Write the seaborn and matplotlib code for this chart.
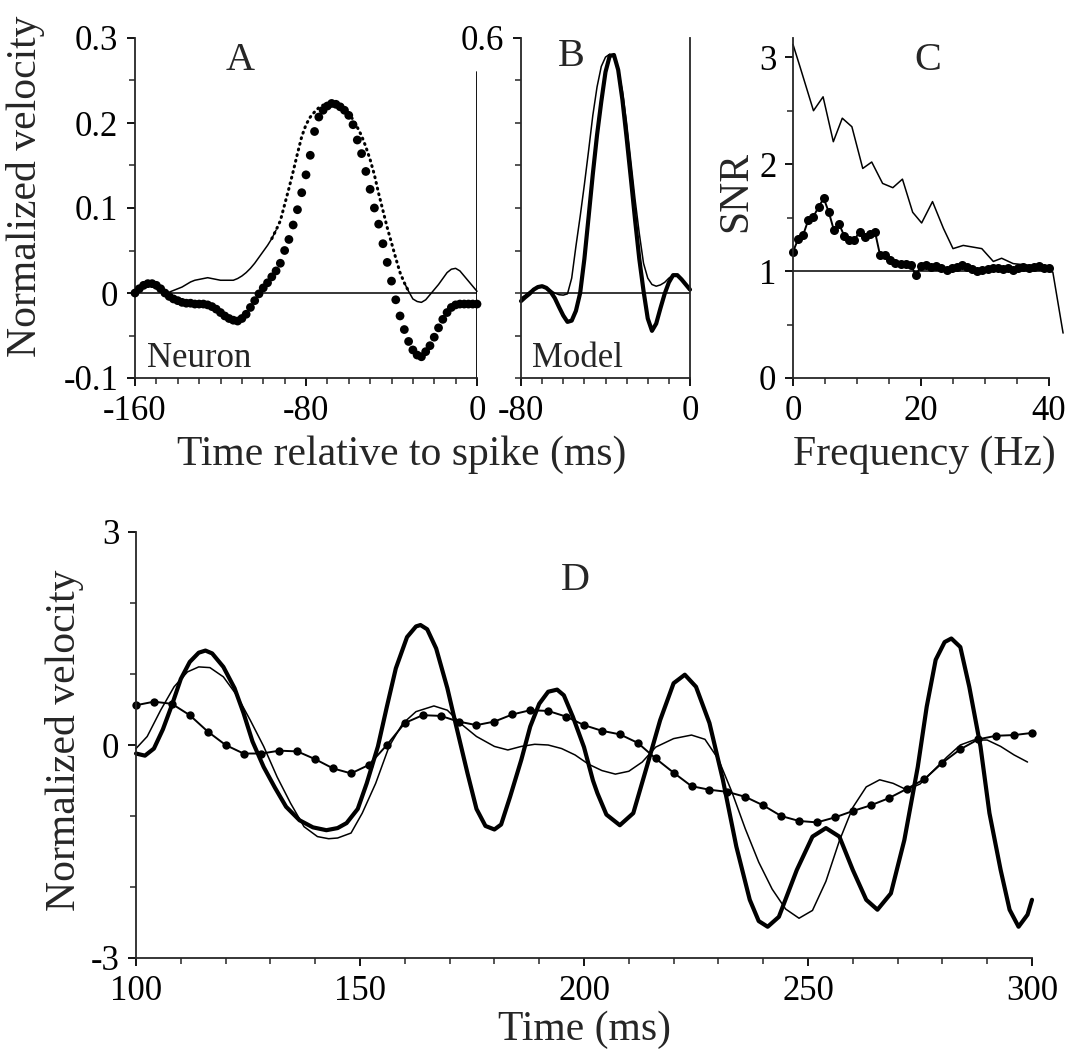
import numpy as np
import pandas as pd
import matplotlib
matplotlib.use("Agg")
import matplotlib.pyplot as plt
import seaborn as sns
from matplotlib.ticker import MultipleLocator

# ---- panel A : neuron (big dots) and its reconstruction (thin line), every 2 ms
t_a = np.arange(-160, 1, 2)
neuron_dots = [0.000, 0.005, 0.009, 0.011, 0.011, 0.009, 0.005, 0.000, -0.004, -0.007,
               -0.009, -0.011, -0.012, -0.012, -0.013, -0.013, -0.013, -0.014, -0.016, -0.019,
               -0.023, -0.027, -0.030, -0.032, -0.033, -0.030, -0.025, -0.017, -0.009, -0.001,
               0.006, 0.012, 0.019, 0.026, 0.035, 0.050, 0.063, 0.080, 0.098, 0.118,
               0.139, 0.162, 0.190, 0.207, 0.215, 0.220, 0.223, 0.222, 0.219, 0.215,
               0.209, 0.198, 0.180, 0.164, 0.143, 0.122, 0.100, 0.081, 0.058, 0.036,
               0.014, -0.008, -0.027, -0.043, -0.057, -0.067, -0.073, -0.075, -0.069, -0.062,
               -0.052, -0.041, -0.031, -0.023, -0.017, -0.014, -0.013, -0.013, -0.013, -0.013,
               -0.013]
neuron_thin = [0.000, 0.006, 0.009, 0.010, 0.009, 0.005, 0.002, 0.000, 0.001, 0.003,
               0.005, 0.007, 0.010, 0.013, 0.015, 0.016, 0.017, 0.018, 0.017, 0.016,
               0.015, 0.015, 0.015, 0.015, 0.017, 0.020, 0.024, 0.029, 0.035, 0.042,
               0.049, 0.056, 0.064, 0.074, 0.085, 0.104, 0.123, 0.143, 0.164, 0.184,
               0.198, 0.207, 0.213, 0.218, 0.221, 0.223, 0.223, 0.222, 0.220, 0.216,
               0.211, 0.204, 0.195, 0.185, 0.172, 0.157, 0.139, 0.117, 0.097, 0.077,
               0.059, 0.041, 0.024, 0.012, 0.002, -0.007, -0.010, -0.011, -0.008, -0.002,
               0.004, 0.010, 0.017, 0.024, 0.028, 0.029, 0.026, 0.020, 0.014, 0.008,
               0.002]

# ---- panel B : model kernels, every 2 ms
t_b = np.arange(-80, 1, 2)
model_thick = [-0.019, -0.010, -0.002, 0.008, 0.014, 0.016, 0.012, 0.003, -0.012, -0.033,
               -0.053, -0.068, -0.065, -0.042, 0.000, 0.080, 0.179, 0.280, 0.372, 0.450,
               0.520, 0.558, 0.560, 0.525, 0.455, 0.365, 0.270, 0.172, 0.080, 0.005,
               -0.060, -0.089, -0.072, -0.036, -0.002, 0.025, 0.042, 0.042, 0.032, 0.020,
               0.008]
model_thin = [-0.012, -0.005, 0.003, 0.010, 0.015, 0.017, 0.013, 0.006, 0.000, -0.004,
              -0.005, -0.002, 0.035, 0.110, 0.180, 0.255, 0.335, 0.418, 0.485, 0.533,
              0.555, 0.562, 0.555, 0.525, 0.475, 0.400, 0.310, 0.220, 0.140, 0.070,
              0.035, 0.020, 0.016, 0.019, 0.025, 0.035, 0.042, 0.040, 0.030, 0.020,
              0.012]

# ---- panel C : SNR vs frequency
f_dots = np.arange(0, 40.01, 0.8)
snr_dots = [1.18, 1.30, 1.34, 1.48, 1.51, 1.60, 1.68, 1.55, 1.38, 1.44,
            1.33, 1.29, 1.29, 1.37, 1.32, 1.35, 1.37, 1.15, 1.15, 1.10,
            1.08, 1.07, 1.07, 1.06, 0.96, 1.05, 1.06, 1.04, 1.05, 1.03,
            1.01, 1.03, 1.04, 1.06, 1.04, 1.02, 1.00, 1.01, 1.02, 1.03,
            1.03, 1.02, 1.03, 1.01, 1.03, 1.04, 1.03, 1.04, 1.05, 1.03,
            1.03]
f_thin = [0.0, 1.1, 3.2, 4.7, 6.3, 7.7, 9.2, 10.9, 12.3, 14.0, 15.6, 17.1, 18.7,
          20.1, 21.8, 23.5, 25.0, 26.6, 29.5, 31.3, 32.6, 34.4, 37.5, 40.6, 42.2]
snr_thin = [3.12, 2.91, 2.50, 2.63, 2.21, 2.43, 2.35, 1.96, 2.02, 1.82, 1.78, 1.86, 1.55,
            1.45, 1.65, 1.40, 1.21, 1.24, 1.21, 1.09, 1.12, 1.07, 1.05, 0.99, 0.42]

# ---- panel D : velocity traces
t_dots = np.arange(100, 301, 4)
vel_dots = [0.56, 0.61, 0.58, 0.42, 0.19, 0.00, -0.12, -0.12, -0.08, -0.09,
            -0.20, -0.33, -0.40, -0.28, 0.00, 0.31, 0.42, 0.41, 0.33, 0.28,
            0.33, 0.43, 0.49, 0.48, 0.40, 0.28, 0.20, 0.15, 0.03, -0.19,
            -0.39, -0.58, -0.63, -0.66, -0.73, -0.85, -1.00, -1.07, -1.09, -1.02,
            -0.93, -0.85, -0.75, -0.62, -0.48, -0.25, -0.06, 0.08, 0.13, 0.14,
            0.17]
t_thick = [100.0, 102.0, 104.0, 106.0, 108.0, 110.0, 112.0, 114.0, 115.5, 117.0,
           119.5, 122.0, 124.0, 126.0, 128.5, 131.0, 133.5, 136.5, 139.5, 142.5,
           145.0, 147.0, 149.5, 151.5, 154.0, 156.0, 158.0, 160.5, 162.5, 163.5,
           165.0, 167.0, 169.5, 171.5, 174.0, 176.0, 178.0, 180.0, 181.5, 183.5,
           186.0, 188.0, 190.0, 192.0, 194.0, 195.5, 197.5, 200.0, 202.0, 203.0,
           205.0, 208.0, 211.0, 214.0, 217.0, 220.0, 222.5, 225.0, 228.0, 231.0,
           234.0, 237.0, 239.0, 241.0, 243.5, 247.5, 251.0, 254.0, 257.0, 260.0,
           263.0, 265.5, 268.5, 271.5, 274.5, 276.5, 278.5, 280.5, 282.0, 284.0,
           286.0, 288.5, 290.5, 293.0, 295.0, 297.0, 299.0, 300.0]
vel_thick = [-0.12, -0.15, -0.05, 0.22, 0.56, 0.93, 1.17, 1.30, 1.33, 1.29,
             1.10, 0.80, 0.45, 0.05, -0.31, -0.60, -0.87, -1.06, -1.16, -1.20,
             -1.17, -1.10, -0.90, -0.54, -0.02, 0.54, 1.08, 1.52, 1.67, 1.69,
             1.63, 1.36, 0.80, 0.26, -0.40, -0.90, -1.14, -1.19, -1.12, -0.73,
             -0.21, 0.26, 0.58, 0.75, 0.78, 0.70, 0.40, -0.03, -0.50, -0.68,
             -0.98, -1.13, -0.96, -0.31, 0.35, 0.87, 0.99, 0.82, 0.31, -0.49,
             -1.43, -2.18, -2.48, -2.56, -2.42, -1.76, -1.29, -1.17, -1.29, -1.76,
             -2.18, -2.32, -2.09, -1.34, -0.31, 0.54, 1.20, 1.45, 1.50, 1.38,
             0.82, -0.02, -0.96, -1.76, -2.32, -2.56, -2.39, -2.18]
t_thin = [100.0, 102.5, 105.5, 108.5, 111.5, 114.0, 116.5, 119.5, 122.5, 125.5,
          128.5, 131.5, 134.5, 137.5, 140.5, 143.0, 145.0, 148.0, 150.5, 153.5,
          156.5, 159.5, 162.5, 166.5, 169.5, 172.5, 176.0, 180.0, 183.0, 186.0,
          189.0, 192.0, 195.0, 198.0, 201.0, 204.0, 207.0, 210.0, 213.0, 216.0,
          220.0, 224.0, 227.0, 230.0, 233.0, 236.0, 239.0, 242.0, 245.0, 248.0,
          251.0, 254.0, 257.0, 260.0, 263.0, 266.0, 269.0, 272.0, 275.0, 278.0,
          281.0, 284.0, 287.0, 290.0, 293.0, 296.0, 299.0]
vel_thin = [-0.05, 0.12, 0.49, 0.82, 1.03, 1.10, 1.09, 0.96, 0.70, 0.35,
            -0.02, -0.45, -0.82, -1.15, -1.29, -1.32, -1.31, -1.24, -0.96, -0.54,
            -0.02, 0.30, 0.47, 0.55, 0.49, 0.30, 0.12, -0.02, -0.07, -0.02,
            0.01, 0.00, -0.05, -0.14, -0.27, -0.36, -0.41, -0.37, -0.24, -0.03,
            0.09, 0.14, 0.08, -0.20, -0.66, -1.18, -1.65, -2.03, -2.31, -2.44,
            -2.33, -1.92, -1.35, -0.88, -0.59, -0.49, -0.54, -0.63, -0.55, -0.36,
            -0.17, 0.00, 0.07, 0.07, -0.02, -0.14, -0.24]

sns.set_style("ticks")
plt.rcParams['font.family'] = ['Liberation Serif', 'DejaVu Serif']
plt.rcParams['axes.unicode_minus'] = False
plt.rcParams['axes.linewidth'] = 1.3

W, H = 1072, 1059
fig = plt.figure(figsize=(W / 100, H / 100), dpi=100)

def box(x0, y0, x1, y1):
    return [x0 / W, 1 - y1 / H, (x1 - x0) / W, (y1 - y0) / H]

axA = fig.add_axes(box(135, 38, 477, 378))
axB = fig.add_axes(box(521, 38, 690, 378))
axC = fig.add_axes(box(793, 38, 1065, 378))
axD = fig.add_axes(box(136, 532, 1032, 958))

TICK = 25
for ax in (axA, axB, axC, axD):
    ax.tick_params(which='major', direction='out', length=6, width=1.3,
                   labelsize=TICK, pad=6, colors='black')
    ax.tick_params(which='minor', direction='out', length=4, width=1.1)
    ax.spines['top'].set_visible(False)
    ax.spines['right'].set_visible(False)
    ax.set_facecolor('none')

thin = dict(color='black', lw=1.1, sort=False, estimator=None, clip_on=False)
thick = dict(color='black', lw=3.0, sort=False, estimator=None, clip_on=False)

# A
axA.axhline(0, color='black', lw=1.1)
axA.axvline(0, ymin=0, ymax=0.9, color='black', lw=1.3)
t_a_arr = np.array(t_a)
v_thin = np.array(neuron_thin)
solid1 = t_a_arr <= -94
dotted = (t_a_arr >= -96) & (t_a_arr <= -32)
solid2 = t_a_arr >= -34
sns.lineplot(x=t_a_arr[solid1], y=v_thin[solid1], ax=axA, **thin)
sns.lineplot(x=t_a_arr[solid2], y=v_thin[solid2], ax=axA, **thin)
sns.lineplot(x=t_a_arr[dotted], y=v_thin[dotted], ax=axA, color='black', lw=2.2,
             linestyle=(0, (0.3, 1.6)), dash_capstyle='round', sort=False, estimator=None)
sns.scatterplot(x=t_a, y=neuron_dots, ax=axA, color='black', s=40,
                edgecolor='none', clip_on=False, zorder=3)
axA.set_xlim(-160, 0)
axA.set_ylim(-0.1, 0.3)
axA.set_xticks([-160, -80, 0])
axA.set_xticklabels(['-160', '-80', '0'])
axA.xaxis.set_minor_locator(MultipleLocator(10))
axA.set_yticks([-0.1, 0, 0.1, 0.2, 0.3])
axA.set_yticklabels(['-0.1', '0', '0.1', '0.2', '0.3'])
axA.yaxis.set_minor_locator(MultipleLocator(0.05))

# B
axB.axhline(0, color='black', lw=1.1)
sns.lineplot(x=t_b, y=model_thin, ax=axB, **thin)
sns.lineplot(x=t_b, y=model_thick, ax=axB, **thick)
axB.spines['right'].set_visible(True)
axB.set_xlim(-80, 0)
axB.set_ylim(-0.2, 0.6)
axB.set_xticks([-80, 0])
axB.set_xticklabels(['-80', '0'])
axB.xaxis.set_minor_locator(MultipleLocator(10))
axB.set_yticks([0.6])
axB.set_yticklabels(['0.6'])
axB.yaxis.set_minor_locator(MultipleLocator(0.1))

# C
axC.hlines(1, 0, 40, color='black', lw=1.1)
sns.lineplot(x=f_thin, y=snr_thin, ax=axC, **thin)
sns.lineplot(x=f_dots, y=snr_dots, ax=axC, color='black', lw=1.4, marker='o',
             markersize=6.5, markeredgewidth=0, sort=False, estimator=None, clip_on=False)
axC.set_xlim(0, 42.5)
axC.set_ylim(0, 3.18)
axC.spines['bottom'].set_bounds(0, 40)
axC.set_xticks([0, 20, 40])
axC.set_xticklabels(['0', '20', '40'])
axC.set_xticks([5, 10, 15, 25, 30, 35], minor=True)
axC.set_yticks([0, 1, 2, 3])
axC.set_yticklabels(['0', '1', '2', '3'])
axC.yaxis.set_minor_locator(MultipleLocator(0.5))

# D
sns.lineplot(x=t_thin, y=vel_thin, ax=axD, **thin)
sns.lineplot(x=t_thick, y=vel_thick, ax=axD, **thick)
sns.lineplot(x=t_dots, y=vel_dots, ax=axD, color='black', lw=1.4, marker='o',
             markersize=6, markeredgewidth=0, sort=False, estimator=None, clip_on=False)
axD.set_xlim(100, 300)
axD.set_ylim(-3, 3)
axD.set_xticks([100, 150, 200, 250, 300])
axD.xaxis.set_minor_locator(MultipleLocator(10))
axD.set_yticks([-3, 0, 3])
axD.set_yticklabels(['-3', '0', '3'])
axD.yaxis.set_minor_locator(MultipleLocator(1))

for ax in (axA, axB, axC, axD):
    ax.set_xlabel('')
    ax.set_ylabel('')

# labels and panel letters
LAB = 30
fig.text(402 / W, 1 - 455 / H, 'Time relative to spike (ms)', fontsize=LAB, ha='center', va='center')
fig.text(924 / W, 1 - 455 / H, 'Frequency (Hz)', fontsize=LAB, ha='center', va='center')
fig.text(585 / W, 1 - 1030 / H, 'Time (ms)', fontsize=LAB, ha='center', va='center')
fig.text(26 / W, 1 - 186 / H, 'Normalized velocity', fontsize=LAB, rotation=90, ha='center', va='center')
fig.text(736 / W, 1 - 192 / H, 'SNR', fontsize=LAB, rotation=90, ha='center', va='center')
fig.text(65 / W, 1 - 740 / H, 'Normalized velocity', fontsize=LAB, rotation=90, ha='center', va='center')

LET = 29
fig.text(240 / W, 1 - 60 / H, 'A', fontsize=LET, ha='center', va='center')
fig.text(571 / W, 1 - 56 / H, 'B', fontsize=LET, ha='center', va='center')
fig.text(928 / W, 1 - 60 / H, 'C', fontsize=LET, ha='center', va='center')
fig.text(575 / W, 1 - 580 / H, 'D', fontsize=LET, ha='center', va='center')
fig.text(147 / W, 1 - 367 / H, 'Neuron', fontsize=25, ha='left', va='baseline')
fig.text(532 / W, 1 - 367 / H, 'Model', fontsize=25, ha='left', va='baseline')

fig.savefig('out.png', dpi=100, facecolor='white')
